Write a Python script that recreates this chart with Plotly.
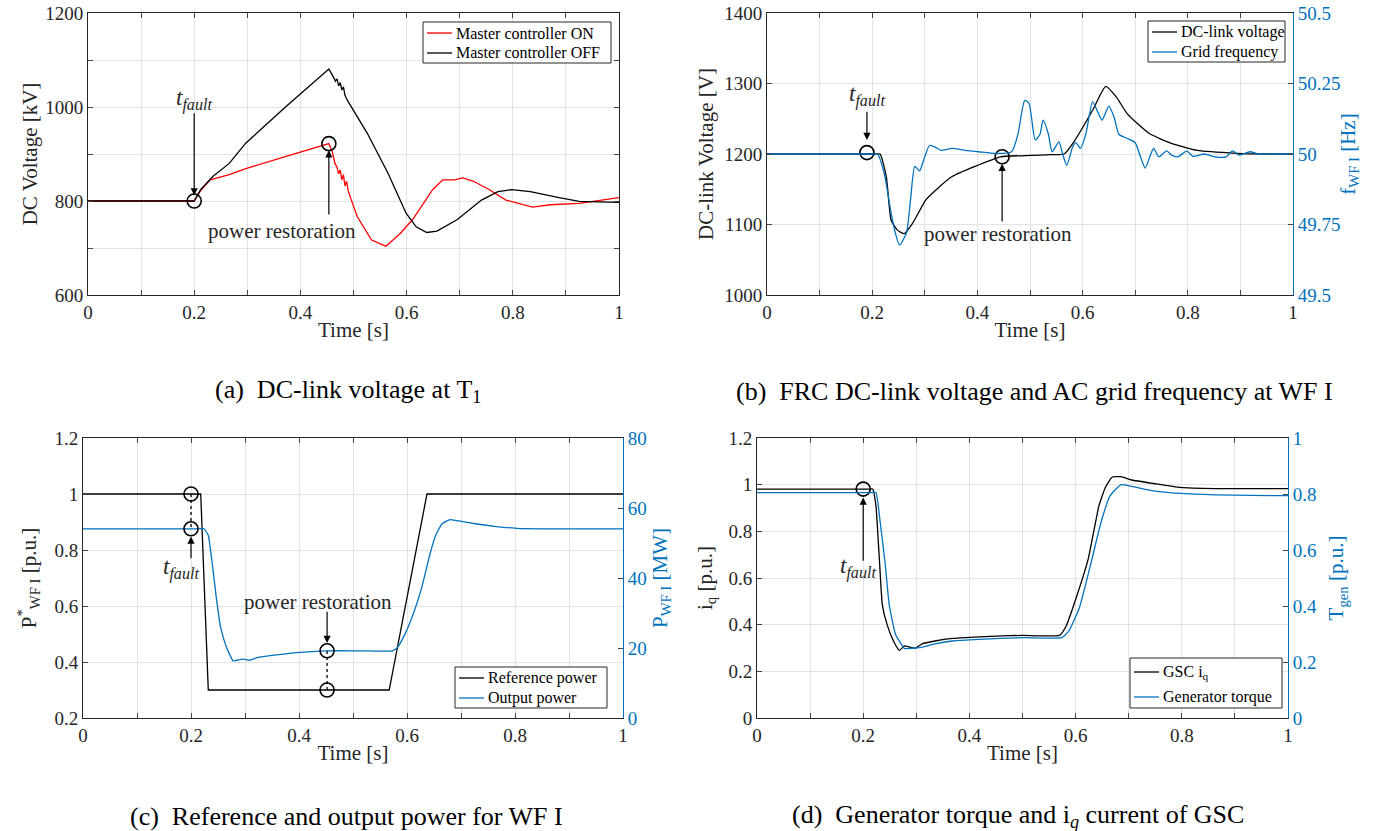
import numpy as np
import plotly.graph_objects as go

# ---------------- data ----------------
# (a) DC-link voltage at T1 [kV]
ta_on = [0, 0.2, 0.212, 0.23, 0.266, 0.3, 0.373, 0.42, 0.4536, 0.46, 0.465, 0.469, 0.472, 0.475, 0.478, 0.481, 0.484, 0.487, 0.49, 0.495,
         0.507, 0.534, 0.561, 0.588, 0.611, 0.649, 0.668, 0.69, 0.706, 0.726, 0.756, 0.787, 0.818, 0.837, 0.871, 0.925, 1.0]
va_on = [800, 800, 822, 845, 856, 870, 895, 910, 922, 905, 880, 872, 858, 866, 845, 856, 832, 842, 822, 805,
         767, 717, 704, 731, 760, 824, 845, 845, 849, 842, 824, 802, 792, 787, 792, 795, 807]
ta_off = [0, 0.2, 0.212, 0.235, 0.266, 0.297, 0.373, 0.4536, 0.462, 0.466, 0.469, 0.472, 0.475, 0.478, 0.481, 0.484, 0.488,
          0.526, 0.565, 0.599, 0.618, 0.638, 0.657, 0.695, 0.741, 0.772, 0.798, 0.833, 0.887, 0.925, 1.0]
va_off = [800, 800, 824, 852, 880, 923, 1001, 1081, 1064, 1055, 1060, 1045, 1052, 1036, 1043, 1025, 1015,
          944, 859, 774, 745, 733, 736, 760, 802, 820, 824, 820, 807, 799, 797]

# (b) FRC DC-link voltage [V] and grid frequency [Hz]
tb_v = [0, 0.1, 0.205, 0.215, 0.227, 0.236, 0.248, 0.261, 0.277, 0.302, 0.327, 0.352, 0.394, 0.444, 0.502, 0.54, 0.565, 0.585,
        0.619, 0.644, 0.664, 0.685, 0.727, 0.769, 0.818, 0.893, 0.95, 1.0]
vb_v = [1200, 1200, 1200, 1200, 1167, 1106, 1092, 1087, 1102, 1135, 1153, 1168, 1182, 1196, 1198, 1199, 1200, 1219,
        1262, 1296, 1281, 1257, 1229, 1215, 1205, 1201, 1200, 1200]
tb_f = [0, 0.1, 0.2, 0.21, 0.223, 0.236, 0.244, 0.252, 0.265, 0.273, 0.281, 0.29, 0.298, 0.309, 0.319, 0.331, 0.352, 0.377, 0.402,
        0.435, 0.465, 0.477, 0.49, 0.498, 0.51, 0.519, 0.525, 0.535, 0.542, 0.555, 0.562, 0.57, 0.581, 0.587, 0.596,
        0.606, 0.619, 0.631, 0.637, 0.65, 0.66, 0.669, 0.685, 0.7, 0.71, 0.719, 0.729, 0.735, 0.745, 0.76, 0.769,
        0.781, 0.798, 0.81, 0.831, 0.852, 0.873, 0.885, 0.898, 0.918, 0.935, 0.97, 1.0]
fb_f = [50.0, 50.0, 50.0, 50.0, 49.93, 49.79, 49.72, 49.677, 49.72, 49.84, 49.956, 49.94, 49.98, 50.03, 50.025, 50.013, 50.02, 50.013, 50.008,
        50.002, 50.008, 50.07, 50.19, 50.18, 50.05, 50.07, 50.12, 50.07, 50.008, 50.043, 50.0, 49.96, 50.025, 50.04, 50.02,
        50.07, 50.185, 50.14, 50.12, 50.17, 50.13, 50.07, 50.055, 50.04, 49.99, 49.95, 49.996, 50.02, 49.99, 50.011, 49.996,
        49.99, 50.01, 49.992, 50.0, 49.99, 49.99, 50.011, 49.996, 50.008, 50.0, 50.0, 50.0]

# (c) reference power [p.u.] and output power [MW]
tc_ref = [0, 0.218, 0.232, 0.567, 0.637, 1.0]
pc_ref = [1.0, 1.0, 0.3, 0.3, 1.0, 1.0]
tc_out = [0, 0.1, 0.21, 0.224, 0.232, 0.239, 0.247, 0.255, 0.266, 0.278, 0.285, 0.297, 0.308, 0.324, 0.35, 0.396, 0.45, 0.512, 0.573,
          0.582, 0.596, 0.611, 0.627, 0.642, 0.653, 0.665, 0.68, 0.703, 0.726, 0.765, 0.803, 0.88, 0.94, 1.0]
pc_out = [54.06, 54.06, 54.06, 54.06, 52.2, 44.6, 34.2, 25.8, 20.1, 16.3, 16.5, 16.8, 16.5, 17.3, 17.9, 18.7, 19.2, 19.2, 19.2,
          20.1, 23.9, 29.5, 37.1, 46.5, 52.2, 55.5, 56.7, 56.1, 55.5, 54.7, 54.2, 54.06, 54.06, 54.06]

# (d) GSC iq [p.u.] and generator torque [p.u.]
td_iq = [0, 0.1, 0.21, 0.218, 0.224, 0.23, 0.236, 0.245, 0.257, 0.268, 0.278, 0.286, 0.298, 0.311, 0.335, 0.368, 0.409, 0.45, 0.5,
         0.57, 0.582, 0.603, 0.624, 0.644, 0.656, 0.669, 0.685, 0.706, 0.747, 0.797, 0.862, 0.93, 1.0]
vd_iq = [0.981, 0.981, 0.981, 0.981, 0.91, 0.698, 0.485, 0.40, 0.33, 0.29, 0.309, 0.305, 0.299, 0.318, 0.33, 0.341, 0.347, 0.351, 0.354,
         0.354, 0.393, 0.528, 0.684, 0.91, 0.988, 1.033, 1.034, 1.02, 1.005, 0.988, 0.983, 0.983, 0.983]
td_tq = [0, 0.1, 0.215, 0.224, 0.232, 0.241, 0.249, 0.261, 0.278, 0.29, 0.306, 0.335, 0.368, 0.418, 0.5, 0.574, 0.587, 0.607, 0.628,
         0.648, 0.665, 0.685, 0.706, 0.747, 0.797, 0.862, 0.93, 1.0]
vd_tq = [0.805, 0.805, 0.805, 0.805, 0.70, 0.558, 0.404, 0.298, 0.248, 0.249, 0.251, 0.265, 0.275, 0.281, 0.287, 0.287, 0.31, 0.393, 0.546,
         0.70, 0.794, 0.833, 0.827, 0.811, 0.802, 0.797, 0.795, 0.794]

t_fault_a, t_restore_a = 0.2, 0.4536
t_fault_b, t_restore_b = 0.19, 0.447
t_fault_c, t_restore_c = 0.2, 0.452
t_fault_d = 0.2

legend_a = ["Master controller ON", "Master controller OFF"]
legend_b = ["DC-link voltage", "Grid frequency"]
legend_c = ["Reference power", "Output power"]
legend_d = ["GSC i<sub>q</sub>", "Generator torque"]

# ---------------- style ----------------
BLUE = "#0072BD"
RED = "#FF0000"
BLK = "#000000"
AXC = "#262626"
GRID = "#E3E3E3"
FONT = "Liberation Serif"
TICK = 19
TITLE = 21
LEG = 16
ANN = 21
TFS = 23
CAP = 26

W, H = 1377, 831
def px_x(p):
    return p / W
def px_y(p):
    return 1 - p / H

fig = go.Figure()

def line(x, y, color, name, xa, ya, smooth=None):
    ln = dict(color=color, width=1.3)
    if smooth:
        ln.update(shape="spline", smoothing=smooth)
    fig.add_trace(go.Scatter(x=x, y=y, mode="lines", line=ln, name=name,
                             xaxis=xa, yaxis=ya, showlegend=False))

def circ(x, y, xa, ya):
    fig.add_trace(go.Scatter(x=[x], y=[y], mode="markers", showlegend=False, xaxis=xa, yaxis=ya,
                             marker=dict(symbol="circle-open", size=14, color=BLK, line=dict(width=1.6, color=BLK))))

# (a)
line(ta_on, va_on, RED, legend_a[0], "x", "y")
line(ta_off, va_off, BLK, legend_a[1], "x", "y")
circ(t_fault_a, float(np.interp(t_fault_a, ta_off, va_off)), "x", "y")
circ(t_restore_a, float(np.interp(t_restore_a, ta_on, va_on)), "x", "y")

# (b)
line(tb_v, vb_v, BLK, legend_b[0], "x2", "y2", 0.5)
line(tb_f, fb_f, BLUE, legend_b[1], "x2", "y3", 0.6)
circ(t_fault_b, float(np.interp(t_fault_b, tb_v, vb_v)) + 2, "x2", "y2")
circ(t_restore_b, float(np.interp(t_restore_b, tb_v, vb_v)), "x2", "y2")

# (c)
C_LO, C_HI = 0.2, 1.2
M_LO, M_HI = 0.0, 80.0
def pu_to_mw(v):
    return (v - C_LO) / (C_HI - C_LO) * (M_HI - M_LO) + M_LO
line(tc_ref, pc_ref, BLK, legend_c[0], "x3", "y4")
line(tc_out, pc_out, BLUE, legend_c[1], "x3", "y5", 0.4)
ref_f = float(np.interp(t_fault_c, tc_ref, pc_ref))
out_f = float(np.interp(t_fault_c, tc_out, pc_out))
ref_r = float(np.interp(t_restore_c, tc_ref, pc_ref))
out_r = float(np.interp(t_restore_c, tc_out, pc_out))
for tt, a, b in [(t_fault_c, pu_to_mw(ref_f), out_f), (t_restore_c, pu_to_mw(ref_r), out_r)]:
    fig.add_trace(go.Scatter(x=[tt, tt], y=[a, b], mode="lines", showlegend=False, xaxis="x3", yaxis="y5",
                             line=dict(color=BLK, width=1.3, dash="dot")))
circ(t_fault_c, ref_f, "x3", "y4")
circ(t_restore_c, ref_r, "x3", "y4")
circ(t_fault_c, out_f, "x3", "y5")
circ(t_restore_c, out_r, "x3", "y5")

# (d)
line(td_iq, vd_iq, BLK, legend_d[0], "x4", "y6", 0.4)
line(td_tq, vd_tq, BLUE, legend_d[1], "x4", "y7", 0.4)
circ(t_fault_d, float(np.interp(t_fault_d, td_iq, vd_iq)), "x4", "y6")

# ---------------- axes ----------------
xt = [round(0.1 * i, 1) for i in range(11)]
xtt = ["0", "", "0.2", "", "0.4", "", "0.6", "", "0.8", "", "1"]

def xaxis(dom, anchor):
    return dict(domain=dom, anchor=anchor, range=[0, 1], tickvals=xt, ticktext=xtt, ticks="inside", ticklen=5,
                showline=True, linecolor=AXC, linewidth=1, mirror="ticks", showgrid=True, gridcolor=GRID,
                zeroline=False, tickfont=dict(family=FONT, size=TICK, color=AXC),
                title=dict(text="Time [s]", font=dict(family=FONT, size=TITLE, color=AXC), standoff=0),
                automargin=False)

def yleft(dom, anchor, rng, tv, tt, title, standoff, mirror=False):
    return dict(domain=dom, anchor=anchor, range=rng, tickvals=tv, ticktext=tt, ticks="inside", ticklen=5,
                showline=True, linecolor=AXC, linewidth=1, mirror="ticks" if mirror else False,
                showgrid=True, gridcolor=GRID, zeroline=False,
                tickfont=dict(family=FONT, size=TICK, color=AXC),
                title=dict(text=title, font=dict(family=FONT, size=TITLE, color=AXC), standoff=standoff),
                automargin=False)

def yright(overlay, anchor, rng, tv, tt, title, standoff):
    return dict(overlaying=overlay, anchor=anchor, side="right", range=rng, tickvals=tv, ticktext=tt,
                ticks="inside", ticklen=5, showline=True, linecolor=BLUE, linewidth=1, showgrid=False,
                zeroline=False, tickfont=dict(family=FONT, size=TICK, color=BLUE),
                title=dict(text=title, font=dict(family=FONT, size=TITLE, color=BLUE), standoff=standoff),
                automargin=False)

dom_ax = [px_x(88), px_x(619)]
dom_bx = [px_x(767), px_x(1293)]
dom_cx = [px_x(83), px_x(623)]
dom_dx = [px_x(757), px_x(1288)]
dom_top = [px_y(295), px_y(13)]
dom_bot = [px_y(718), px_y(438)]

a_tv = list(range(600, 1201, 100))
a_tt = [str(v) if v % 200 == 0 else "" for v in a_tv]
b_tv = list(range(1000, 1401, 100))
b_tt = [str(v) for v in b_tv]
b2_tv = [49.5, 49.75, 50, 50.25, 50.5]
b2_tt = ["49.5", "49.75", "50", "50.25", "50.5"]
c_tv = [0.2, 0.4, 0.6, 0.8, 1.0, 1.2]
c_tt = ["0.2", "0.4", "0.6", "0.8", "1", "1.2"]
c2_tv = [0, 20, 40, 60, 80]
c2_tt = ["0", "20", "40", "60", "80"]
d_tv = [0, 0.2, 0.4, 0.6, 0.8, 1.0, 1.2]
d_tt = ["0", "0.2", "0.4", "0.6", "0.8", "1", "1.2"]
d2_tv = [0, 0.2, 0.4, 0.6, 0.8, 1.0]
d2_tt = ["0", "0.2", "0.4", "0.6", "0.8", "1"]

fig.update_layout(
    xaxis=xaxis(dom_ax, "y"),
    yaxis=yleft(dom_top, "x", [600, 1200], a_tv, a_tt, "DC Voltage [kV]", 1, mirror=True),
    xaxis2=xaxis(dom_bx, "y2"),
    yaxis2=yleft(dom_top, "x2", [1000, 1400], b_tv, b_tt, "DC-link Voltage [V]", 4),
    yaxis3=yright("y2", "x2", [49.5, 50.5], b2_tv, b2_tt, "f<sub>WF I</sub> [Hz]", 0),
    xaxis3=xaxis(dom_cx, "y4"),
    yaxis4=yleft(dom_bot, "x3", [C_LO, C_HI], c_tv, c_tt, "P<sup>*</sup><sub>WF I</sub> [p.u.]", 12),
    yaxis5=yright("y4", "x3", [M_LO, M_HI], c2_tv, c2_tt, "P<sub>WF I</sub> [MW]", 6),
    xaxis4=xaxis(dom_dx, "y6"),
    yaxis6=yleft(dom_bot, "x4", [0, 1.2], d_tv, d_tt, "i<sub>q</sub> [p.u.]", 10),
    yaxis7=yright("y6", "x4", [0, 1.0], d2_tv, d2_tt, "T<sub>gen</sub> [p.u.]", 12),
)

# ---------------- legends (boxed, MATLAB style) ----------------
shapes = []
ann = []
def draw_legend(box, rows, names, colors):
    x0, y0, x1, y1 = box
    shapes.append(dict(type="rect", xref="paper", yref="paper", x0=px_x(x0), x1=px_x(x1), y0=px_y(y1), y1=px_y(y0),
                       line=dict(color=AXC, width=1), fillcolor="white", layer="above"))
    for yy, nm, col in zip(rows, names, colors):
        shapes.append(dict(type="line", xref="paper", yref="paper", x0=px_x(x0 + 4), x1=px_x(x0 + 29),
                           y0=px_y(yy), y1=px_y(yy), line=dict(color=col, width=1.3), layer="above"))
        ann.append(dict(xref="paper", yref="paper", x=px_x(x0 + 31), y=px_y(yy), text=nm, showarrow=False,
                        xanchor="left", yanchor="middle", font=dict(family=FONT, size=LEG, color=BLK)))

draw_legend((423, 22, 611, 63), [33, 53], legend_a, [RED, BLK])
draw_legend((1148, 21, 1285, 62), [32, 52], legend_b, [BLK, BLUE])
draw_legend((455, 667, 607, 708), [678, 698], legend_c, [BLK, BLUE])
draw_legend((1130, 658, 1282, 708), [672, 697], legend_d, [BLK, BLUE])

# ---------------- annotations ----------------
TF = "<i>t</i><sub><i>fault</i></sub>"
def arrow(xr, yr, x, y, ax, ay):
    ann.append(dict(xref=xr, yref=yr, axref=xr, ayref=yr, x=x, y=y, ax=ax, ay=ay, text="", showarrow=True,
                    arrowhead=2, arrowsize=1.2, arrowwidth=1.2, arrowcolor=BLK))
def label(xr, yr, x, y, text, size=ANN):
    ann.append(dict(xref=xr, yref=yr, x=x, y=y, text=text, showarrow=False,
                    font=dict(family=FONT, size=size, color=AXC)))

# (a)
label("x", "y", 0.2, 1015, TF, TFS)
arrow("x", "y", 0.2, 812, 0.2, 990)
arrow("x", "y", t_restore_a, 908, t_restore_a, 768)
label("x", "y", 0.365, 737, "power restoration")
# (b)
label("x2", "y2", 0.19, 1283, TF, TFS)
arrow("x2", "y2", t_fault_b, 1220, t_fault_b, 1262)
arrow("x2", "y2", t_restore_b, 1186, t_restore_b, 1102)
label("x2", "y2", 0.44, 1086, "power restoration")
# (c)
label("x3", "y4", 0.182, 0.735, TF, TFS)
arrow("x3", "y4", t_fault_c, 0.848, t_fault_c, 0.765)
label("x3", "y4", 0.435, 0.616, "power restoration")
arrow("x3", "y4", t_restore_c, 0.468, t_restore_c, 0.585)
# (d)
label("x4", "y6", 0.19, 0.645, TF, TFS)
arrow("x4", "y6", t_fault_d, 0.945, t_fault_d, 0.668)

# captions
def caption(xc, yc, text):
    ann.append(dict(xref="paper", yref="paper", x=px_x(xc), y=px_y(yc), text=text, showarrow=False,
                    xanchor="center", yanchor="middle", font=dict(family=FONT, size=CAP, color=BLK)))
caption(348, 391, "(a)  DC-link voltage at T<sub>1</sub>")
caption(1034, 391, "(b)  FRC DC-link voltage and AC grid frequency at WF I")
caption(346, 816, "(c)  Reference and output power for WF I")
caption(1018, 816, "(d)  Generator torque and i<sub><i>q</i></sub> current of GSC")

fig.update_layout(annotations=ann, shapes=shapes, width=W, height=H, autosize=False, showlegend=False,
                  margin=dict(l=0, r=0, t=0, b=0), paper_bgcolor="white", plot_bgcolor="white",
                  font=dict(family=FONT, color=AXC))

fig.write_html("out.html")
